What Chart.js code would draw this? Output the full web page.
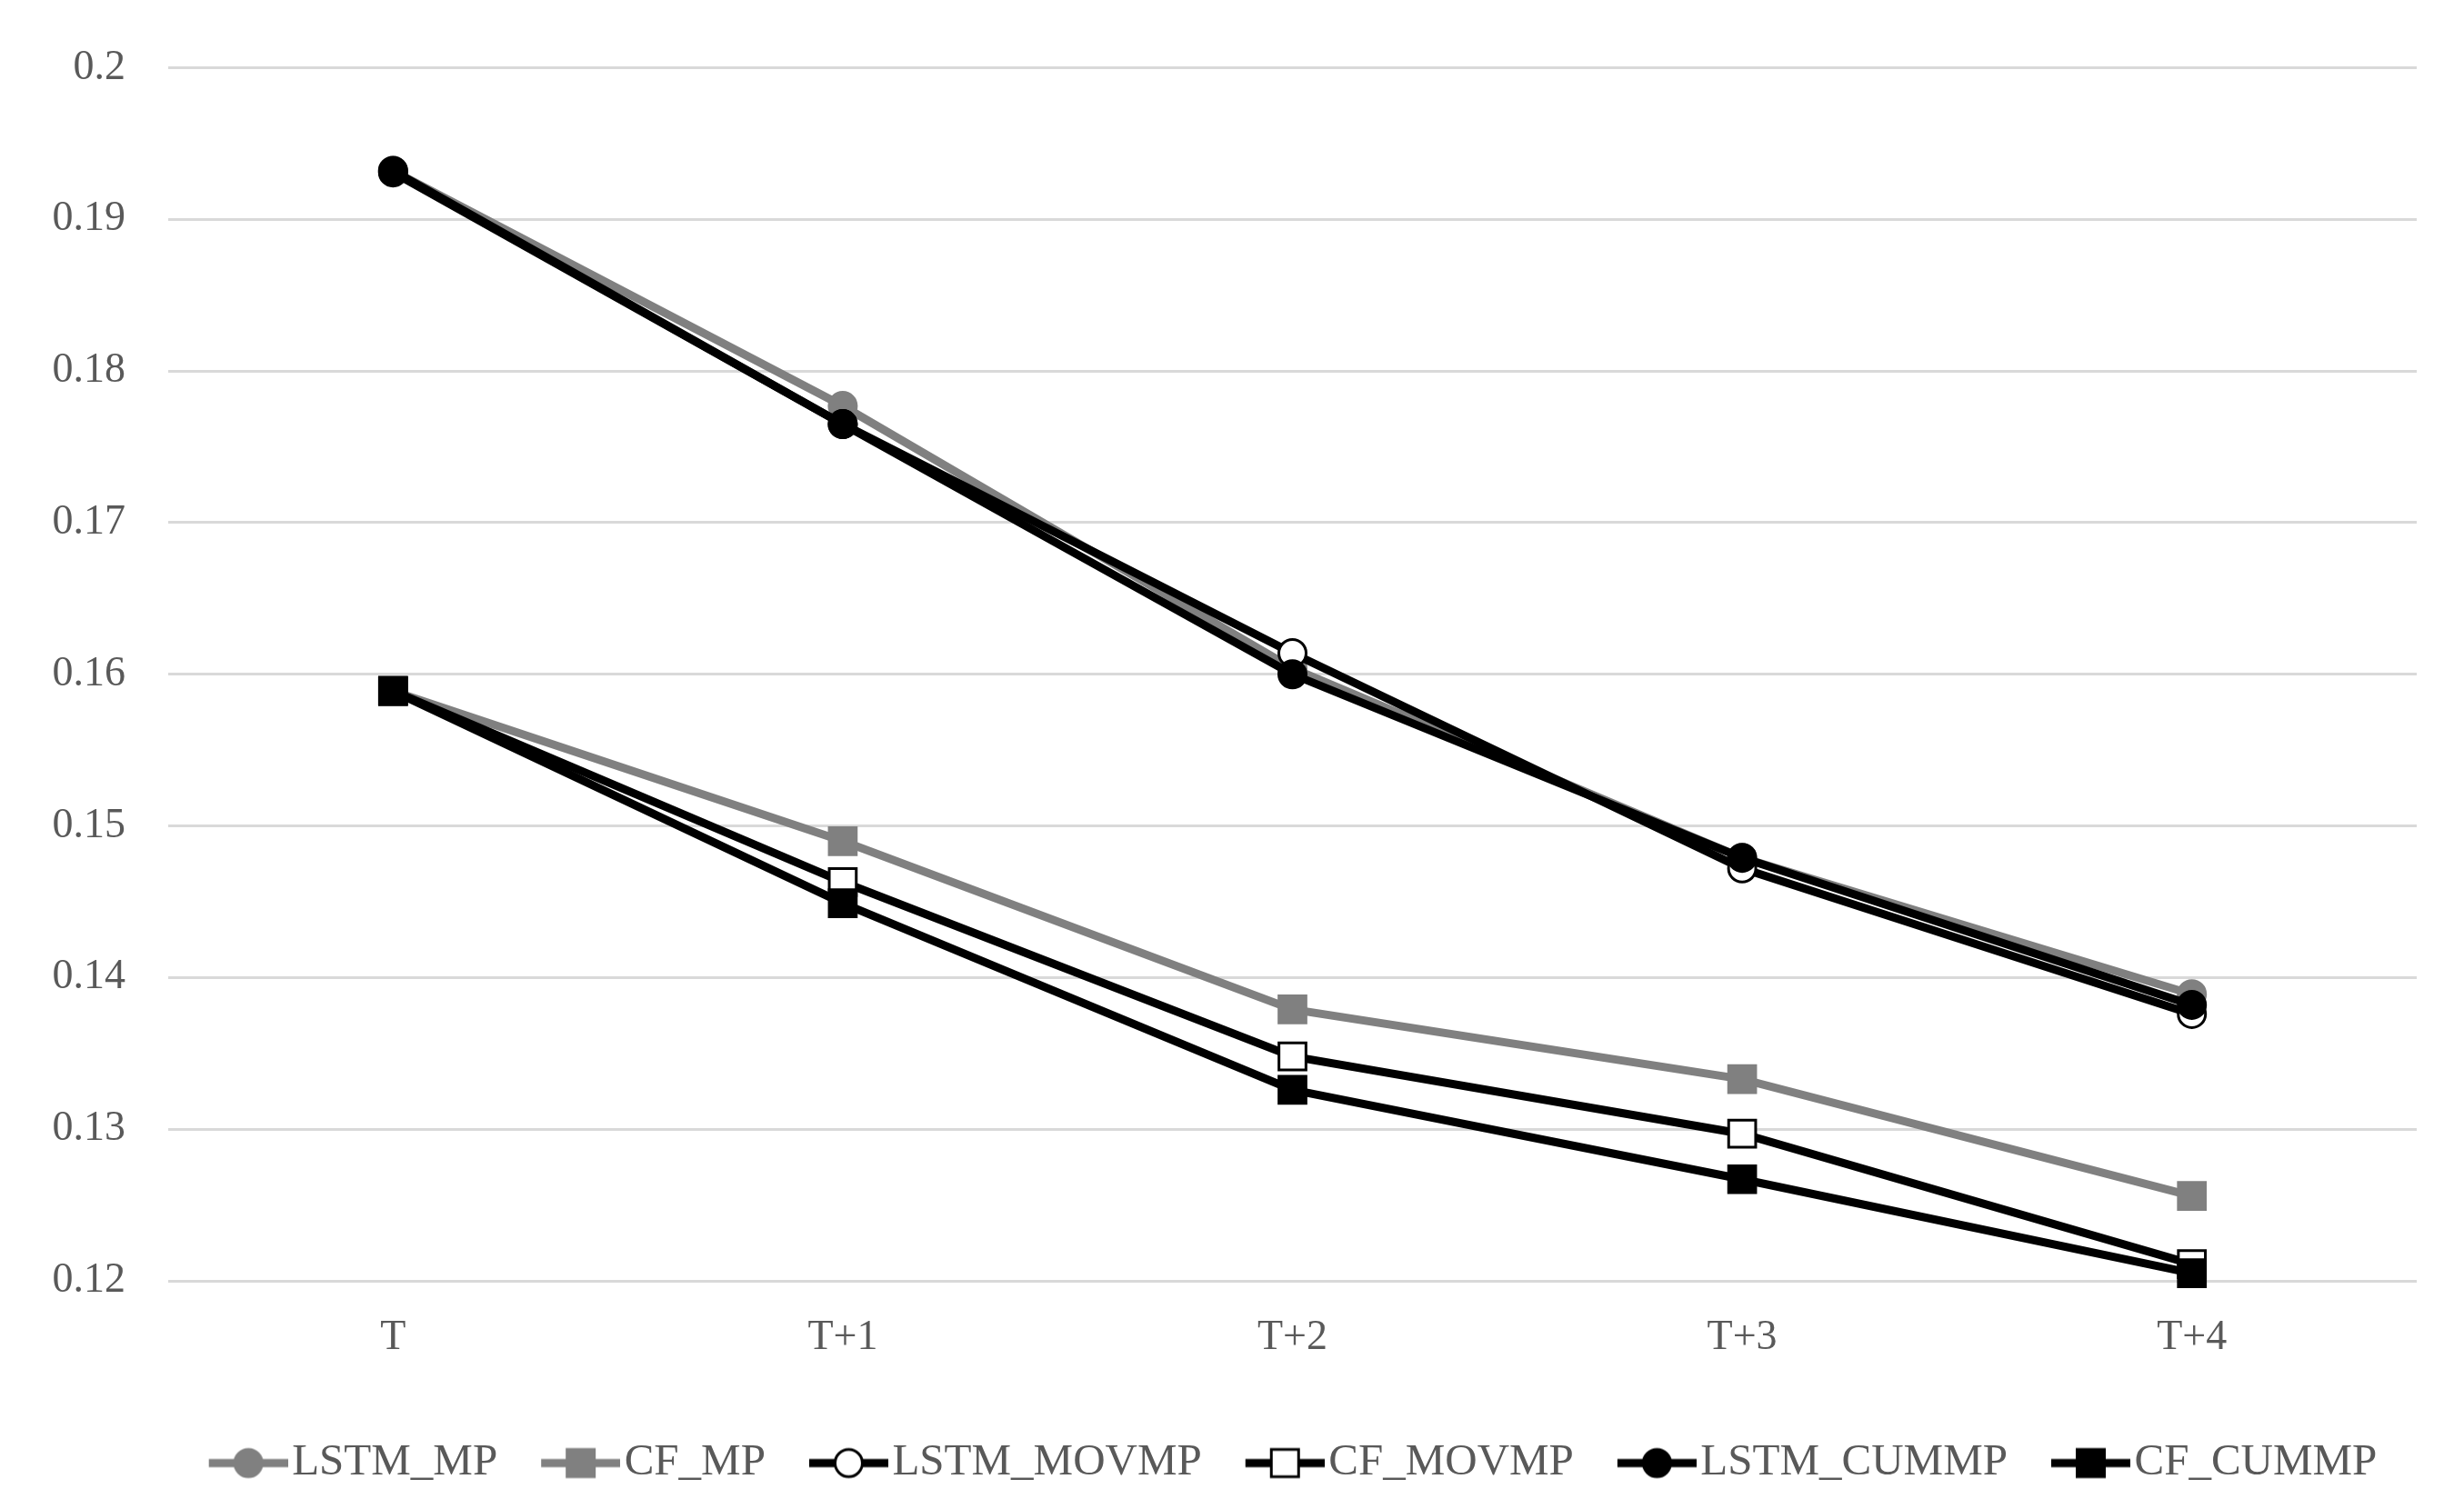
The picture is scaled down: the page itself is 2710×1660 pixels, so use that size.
<!DOCTYPE html>
<html>
<head>
<meta charset="utf-8">
<script src="https://cdn.jsdelivr.net/npm/chart.js@4"></script>
<style>
html,body{margin:0;padding:0;background:#ffffff;}
#wrap{width:2710px;height:1660px;}
</style>
</head>
<body>
<div id="wrap"><canvas id="c" width="2710" height="1660"></canvas></div>
<script>
// ---- data ----
const categories = ['T', 'T+1', 'T+2', 'T+3', 'T+4'];
const seriesNames = ['LSTM_MP', 'CF_MP', 'LSTM_MOVMP', 'CF_MOVMP', 'LSTM_CUMMP', 'CF_CUMMP'];
const LSTM_MP    = [0.1932, 0.1777, 0.1604, 0.1479, 0.1389];
const CF_MP      = [0.1589, 0.1490, 0.1379, 0.1333, 0.1256];
const LSTM_MOVMP = [0.1931, 0.1765, 0.1614, 0.1472, 0.1376];
const CF_MOVMP   = [0.1589, 0.1463, 0.1348, 0.1297, 0.1211];
const LSTM_CUMMP = [0.1932, 0.1765, 0.1600, 0.1479, 0.1382];
const CF_CUMMP   = [0.1589, 0.1449, 0.1326, 0.1267, 0.1205];
const yTickLabels = ['0.12', '0.13', '0.14', '0.15', '0.16', '0.17', '0.18', '0.19', '0.2'];

// ---- styles ----
const GRAY = '#808080';
const BLACK = '#000000';
const WHITE = '#ffffff';
const TEXT = '#595959';
const FONT = 'Liberation Serif';
const styles = [
  {line: GRAY,  shape: 'circle', fill: GRAY,  border: GRAY},
  {line: GRAY,  shape: 'rect',   fill: GRAY,  border: GRAY},
  {line: BLACK, shape: 'circle', fill: WHITE, border: BLACK},
  {line: BLACK, shape: 'rect',   fill: WHITE, border: BLACK},
  {line: BLACK, shape: 'circle', fill: BLACK, border: BLACK},
  {line: BLACK, shape: 'rect',   fill: BLACK, border: BLACK}
];
const seriesValues = [LSTM_MP, CF_MP, LSTM_MOVMP, CF_MOVMP, LSTM_CUMMP, CF_CUMMP];

// legend icons (line + marker)
const ICON_W = 145, ICON_H = 44, LINE_START = 58;
function makeIcon(st) {
  const cv = document.createElement('canvas');
  cv.width = ICON_W; cv.height = ICON_H;
  const c = cv.getContext('2d');
  const cy = ICON_H / 2;
  c.strokeStyle = st.line; c.lineWidth = 9;
  c.beginPath(); c.moveTo(LINE_START, cy); c.lineTo(ICON_W, cy); c.stroke();
  const cx = (LINE_START + ICON_W) / 2;
  c.fillStyle = st.fill; c.strokeStyle = st.border; c.lineWidth = 3;
  if (st.shape === 'circle') {
    c.beginPath(); c.arc(cx, cy, 15, 0, Math.PI * 2); c.fill(); c.stroke();
  } else {
    c.beginPath(); c.rect(cx - 15, cy - 15, 30, 30); c.fill(); c.stroke();
  }
  return cv;
}
const legendIcons = styles.map(makeIcon);

const datasets = seriesNames.map((name, i) => {
  const st = styles[i];
  return {
    label: name,
    data: seriesValues[i],
    borderColor: st.line,
    backgroundColor: st.fill,
    borderWidth: 9,
    pointStyle: st.shape,
    pointRadius: st.shape === 'circle' ? 15 : 21,
    pointHoverRadius: st.shape === 'circle' ? 15 : 21,
    pointBackgroundColor: st.fill,
    pointBorderColor: st.border,
    pointBorderWidth: 3,
    tension: 0,
    fill: false,
    order: seriesNames.length - i,
    clip: false
  };
});

const legendShift = {
  id: 'legendShift',
  afterLayout(chart) {
    const d = 74;
    if (chart.legend) { chart.legend.left += d; chart.legend.right += d; }
  }
};

new Chart(document.getElementById('c'), {
  type: 'line',
  data: { labels: categories, datasets },
  options: {
    responsive: false,
    animation: false,
    devicePixelRatio: 1,
    layout: { padding: { top: 74, right: 52, bottom: 16, left: 0 } },
    plugins: {
      tooltip: { enabled: false },
      legend: {
        position: 'bottom',
        labels: {
          font: { family: FONT, size: 49 },
          color: TEXT,
          usePointStyle: true,
          pointStyleWidth: 105,
          boxHeight: 50,
          padding: 10,
          generateLabels: (chart) => chart.data.datasets.map((ds, i) => ({
            text: ds.label,
            fillStyle: 'transparent',
            strokeStyle: 'transparent',
            lineWidth: 0,
            pointStyle: legendIcons[i],
            fontColor: TEXT,
            hidden: false,
            datasetIndex: i
          }))
        }
      }
    },
    scales: {
      x: {
        type: 'category',
        offset: true,
        grid: { display: false },
        border: { display: false },
        ticks: { font: { family: FONT, size: 46 }, color: TEXT, padding: 27, maxRotation: 0 },
        afterFit: (s) => { s.height = 166; }
      },
      y: {
        min: 0.12,
        max: 0.2,
        border: { display: false },
        grid: { color: '#d9d9d9', lineWidth: 3, drawTicks: false },
        ticks: {
          stepSize: 0.01,
          font: { family: FONT, size: 46 },
          color: TEXT,
          padding: 47,
          callback: (v, i) => yTickLabels[i]
        },
        afterFit: (s) => { s.width = 185; }
      }
    }
  },
  plugins: [legendShift]
});
</script>
</body>
</html>
